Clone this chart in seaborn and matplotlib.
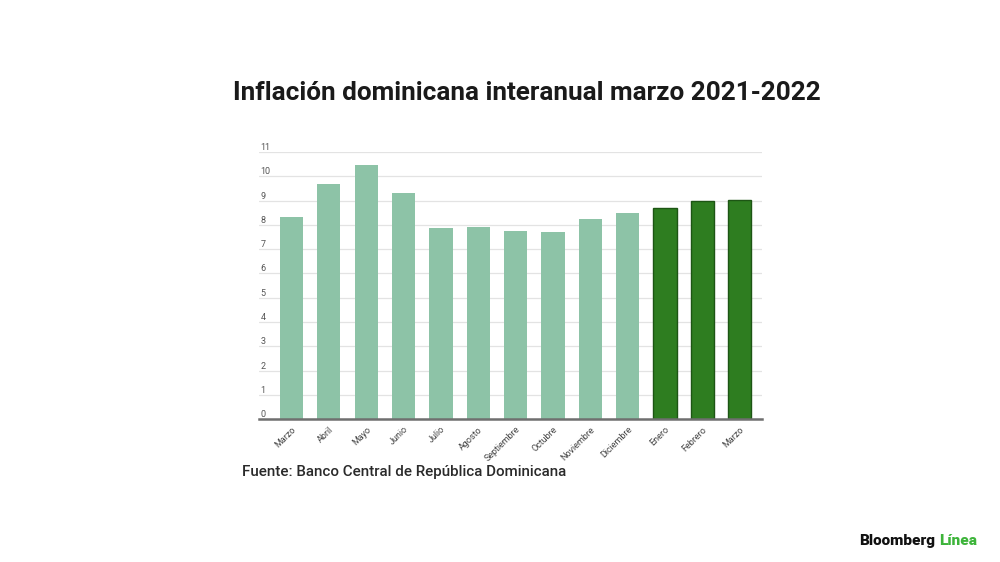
import pandas as pd
import numpy as np
import matplotlib.pyplot as plt
import seaborn as sns

# Data
months = ['Marzo', 'Abril', 'Mayo', 'Junio', 'Julio', 'Agosto', 'Septiembre',
          'Octubre', 'Noviembre', 'Diciembre', 'Enero', 'Febrero', 'Marzo']
years = [2021] * 10 + [2022] * 3
inflation = [8.31, 9.67, 10.48, 9.33, 7.87, 7.90, 7.74, 7.71, 8.23, 8.50, 8.71, 8.97, 9.04]
yticks = list(range(0, 12))

light_green = '#8dc3a7'
dark_green = '#2e7d20'

df = pd.DataFrame({'month': months, 'year': years, 'value': inflation})
df['period'] = df['month'] + ' ' + df['year'].astype(str)
colors = [light_green if y == 2021 else dark_green for y in df['year']]

sns.set_theme(style='white')
plt.rcParams['font.family'] = ['Roboto', 'DejaVu Sans']

fig = plt.figure(figsize=(10, 5.62), dpi=100)
ax = fig.add_axes([0.259, 0.254, 0.503, 0.4755])

sns.barplot(data=df, x='period', y='value', hue='period', palette=colors,
            order=df['period'], hue_order=df['period'], legend=False,
            width=0.625, saturation=1, ax=ax)

# darker outline on the 2022 bars
for patch, y in zip(ax.patches, df['year']):
    if y == 2022:
        patch.set_edgecolor('#1d5514')
        patch.set_linewidth(1.0)
    else:
        patch.set_linewidth(0)

ax.set_xlim(-0.87, 12.6)
ax.set_ylim(0, 11)
ax.set_yticks(yticks)
ax.set_yticklabels([str(t) for t in yticks])
ax.yaxis.grid(True, color='#e3e3e3', linewidth=0.9)
ax.set_axisbelow(True)
for s in ['top', 'right', 'left']:
    ax.spines[s].set_visible(False)
ax.spines['bottom'].set_color('#6f6f6f')
ax.spines['bottom'].set_linewidth(1.8)

ax.tick_params(axis='y', length=0, pad=-1, labelsize=6.5, labelcolor='#555555')
for lab in ax.get_yticklabels():
    lab.set_ha('left')
    lab.set_va('bottom')

ax.set_xticks(range(len(months)))
ax.set_xticklabels(months, rotation=45, ha='right', rotation_mode='anchor')
ax.tick_params(axis='x', length=0, pad=4, labelsize=6.5, labelcolor='#444444')
ax.set_xlabel('')
ax.set_ylabel('')

fig.text(0.527, 0.834, 'Inflación dominicana interanual marzo 2021-2022',
         ha='center', va='center', fontsize=18.8, fontweight='bold', color='#1a1a1a')
fig.text(0.242, 0.16, 'Fuente: Banco Central de República Dominicana',
         ha='left', va='center', fontsize=10.9, fontweight='medium', color='#2a2a2a')

t = fig.text(0.859, 0.037, 'Bloomberg', ha='left', va='center', fontsize=11,
             fontweight='heavy', color='#111111')
fig.canvas.draw()
bb = t.get_window_extent()
fig.text((bb.x1 + 4) / fig.bbox.width, 0.037, 'Línea', ha='left', va='center',
         fontsize=11, fontweight='heavy', color='#3db43a')

fig.savefig('out.png', dpi=100, facecolor='white')
